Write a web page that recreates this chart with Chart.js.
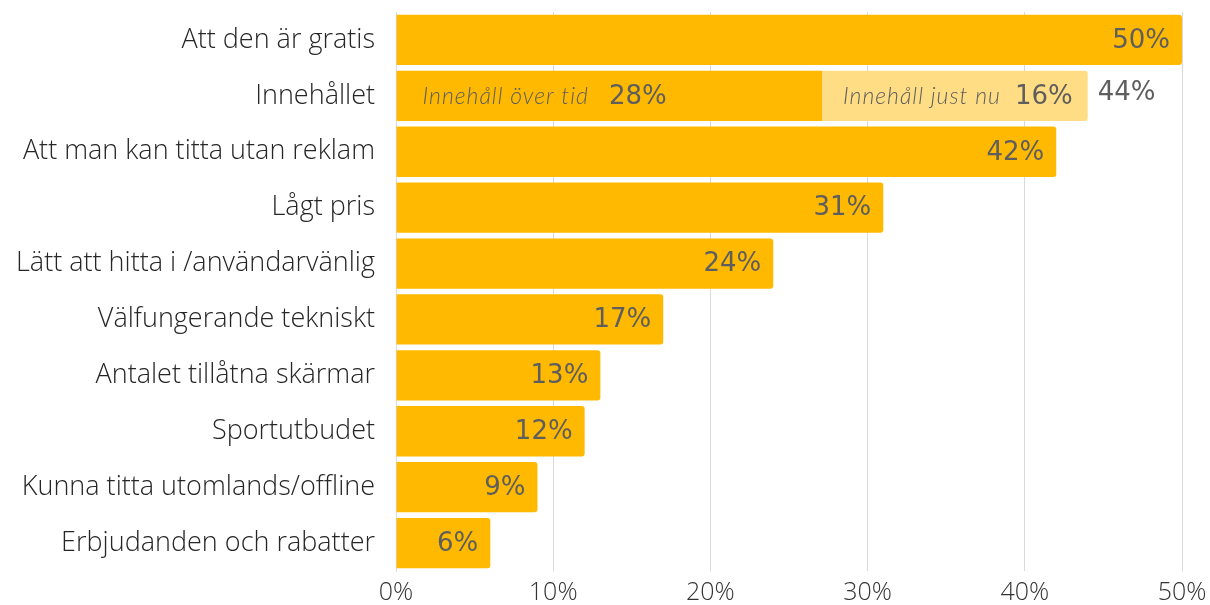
<!DOCTYPE html>
<html>
<head>
<meta charset="utf-8">
<script src="https://cdn.jsdelivr.net/npm/chart.js@4"></script>
<style>
  html, body { margin: 0; padding: 0; background: #fff; }
  #wrap { width: 1210px; height: 605px; }
</style>
</head>
<body>
<div id="wrap"><canvas id="myChart"></canvas></div>
<script>
// kategorier på y-axeln
let labels = ['Att den är gratis', 'Innehållet', 'Att man kan titta utan reklam', 'Lågt pris',
  'Lätt att hitta i /användarvänlig', 'Välfungerande tekniskt', 'Antalet tillåtna skärmar',
  'Sportutbudet', 'Kunna titta utomlands/offline', 'Erbjudanden och rabatter'];
// stapellängd i procent (Innehållet är delad i två delar)
let overTid = [50, 27.1, 42, 31, 24, 17, 13, 12, 9, 6];
let justNu = [null, 16.9, null, null, null, null, null, null, null, null];
// texterna som står på staplarna
let overTidText = ['50%', '28%', '42%', '31%', '24%', '17%', '13%', '12%', '9%', '6%'];
let justNuText = [null, '16%', null, null, null, null, null, null, null, null];
let totalText = [null, '44%', null, null, null, null, null, null, null, null];
let serieNamn = ['Innehåll över tid', 'Innehåll just nu'];
// tick-etiketter på x-axeln
let xTicks = [0, 10, 20, 30, 40, 50];

let colors = ['#FFB900', '#FFDD85'];

// ritar procenttexterna på staplarna
let etiketter = {
  id: 'etiketter',
  afterDatasetsDraw(chart) {
    let ctx = chart.ctx;
    let m0 = chart.getDatasetMeta(0).data;
    let m1 = chart.getDatasetMeta(1).data;
    let numFont = '400 26px "DejaVu Sans"';
    let itFont = 'italic 300 23px Lato';
    ctx.save();
    ctx.textBaseline = 'middle';
    ctx.fillStyle = '#5E5E5E';
    for (let i = 0; i < labels.length; i++) {
      let b = m0[i];
      let y = b.y + 1;
      if (justNu[i] == null) {
        ctx.font = numFont;
        ctx.textAlign = 'right';
        ctx.fillText(overTidText[i], b.x - 12, y);
      } else {
        // första delen: namn + värde från vänster
        ctx.textAlign = 'left';
        ctx.font = itFont;
        ctx.letterSpacing = '1px';
        let x = b.base + 26;
        ctx.fillText(serieNamn[0], x, y);
        x += ctx.measureText(serieNamn[0]).width + 20;
        ctx.font = numFont;
        ctx.letterSpacing = '0px';
        ctx.fillText(overTidText[i], x, y);
        // andra delen: högerställd
        let b2 = m1[i];
        ctx.textAlign = 'right';
        let xr = b2.x - 15;
        ctx.fillText(justNuText[i], xr, y);
        xr -= ctx.measureText(justNuText[i]).width + 14;
        ctx.font = itFont;
        ctx.letterSpacing = '1px';
        ctx.fillText(serieNamn[1], xr, y);
        // summa utanför stapeln
        ctx.textAlign = 'left';
        ctx.font = numFont;
        ctx.letterSpacing = '0px';
        ctx.fillText(totalText[i], b2.x + 10, y - 4);
      }
    }
    ctx.restore();
  }
};

let myChart = document.getElementById('myChart').getContext('2d');

let chart = new Chart(myChart, {
  type: 'bar',
  data: {
    labels: labels,
    datasets: [
      { label: serieNamn[0], data: overTid, backgroundColor: colors[0], borderRadius: 3 },
      { label: serieNamn[1], data: justNu, backgroundColor: colors[1], borderRadius: 3 }
    ]
  },
  options: {
    indexAxis: 'y',
    responsive: true,
    maintainAspectRatio: false,
    animation: false,
    layout: { padding: { top: 12, right: 28, bottom: 0, left: 0 } },
    datasets: { bar: { categoryPercentage: 1, barPercentage: 0.9 } },
    plugins: {
      legend: { display: false },
      tooltip: { enabled: false }
    },
    scales: {
      x: {
        stacked: true,
        min: 0,
        max: 50,
        afterBuildTicks(scale) { scale.ticks = xTicks.map(v => ({ value: v })); },
        afterFit(scale) {
          scale.height = 34;
          scale.paddingLeft = 0;
          scale.paddingRight = 0;
        },
        grid: { color: '#D9D9D9', drawTicks: false },
        border: { display: false },
        ticks: {
          padding: 7,
          color: '#333333',
          font: { family: 'Open Sans', size: 25, weight: 300 },
          callback: v => v + '%'
        }
      },
      y: {
        stacked: true,
        grid: { display: false, drawTicks: false },
        border: { display: true, color: '#D9D9D9' },
        afterFit(scale) {
          scale.width = 396;
          scale.paddingTop = 0;
          scale.paddingBottom = 0;
        },
        ticks: {
          padding: 21,
          color: '#262626',
          font: { family: 'Open Sans', size: 27, weight: 300 }
        }
      }
    }
  },
  plugins: [etiketter]
});
</script>
</body>
</html>
